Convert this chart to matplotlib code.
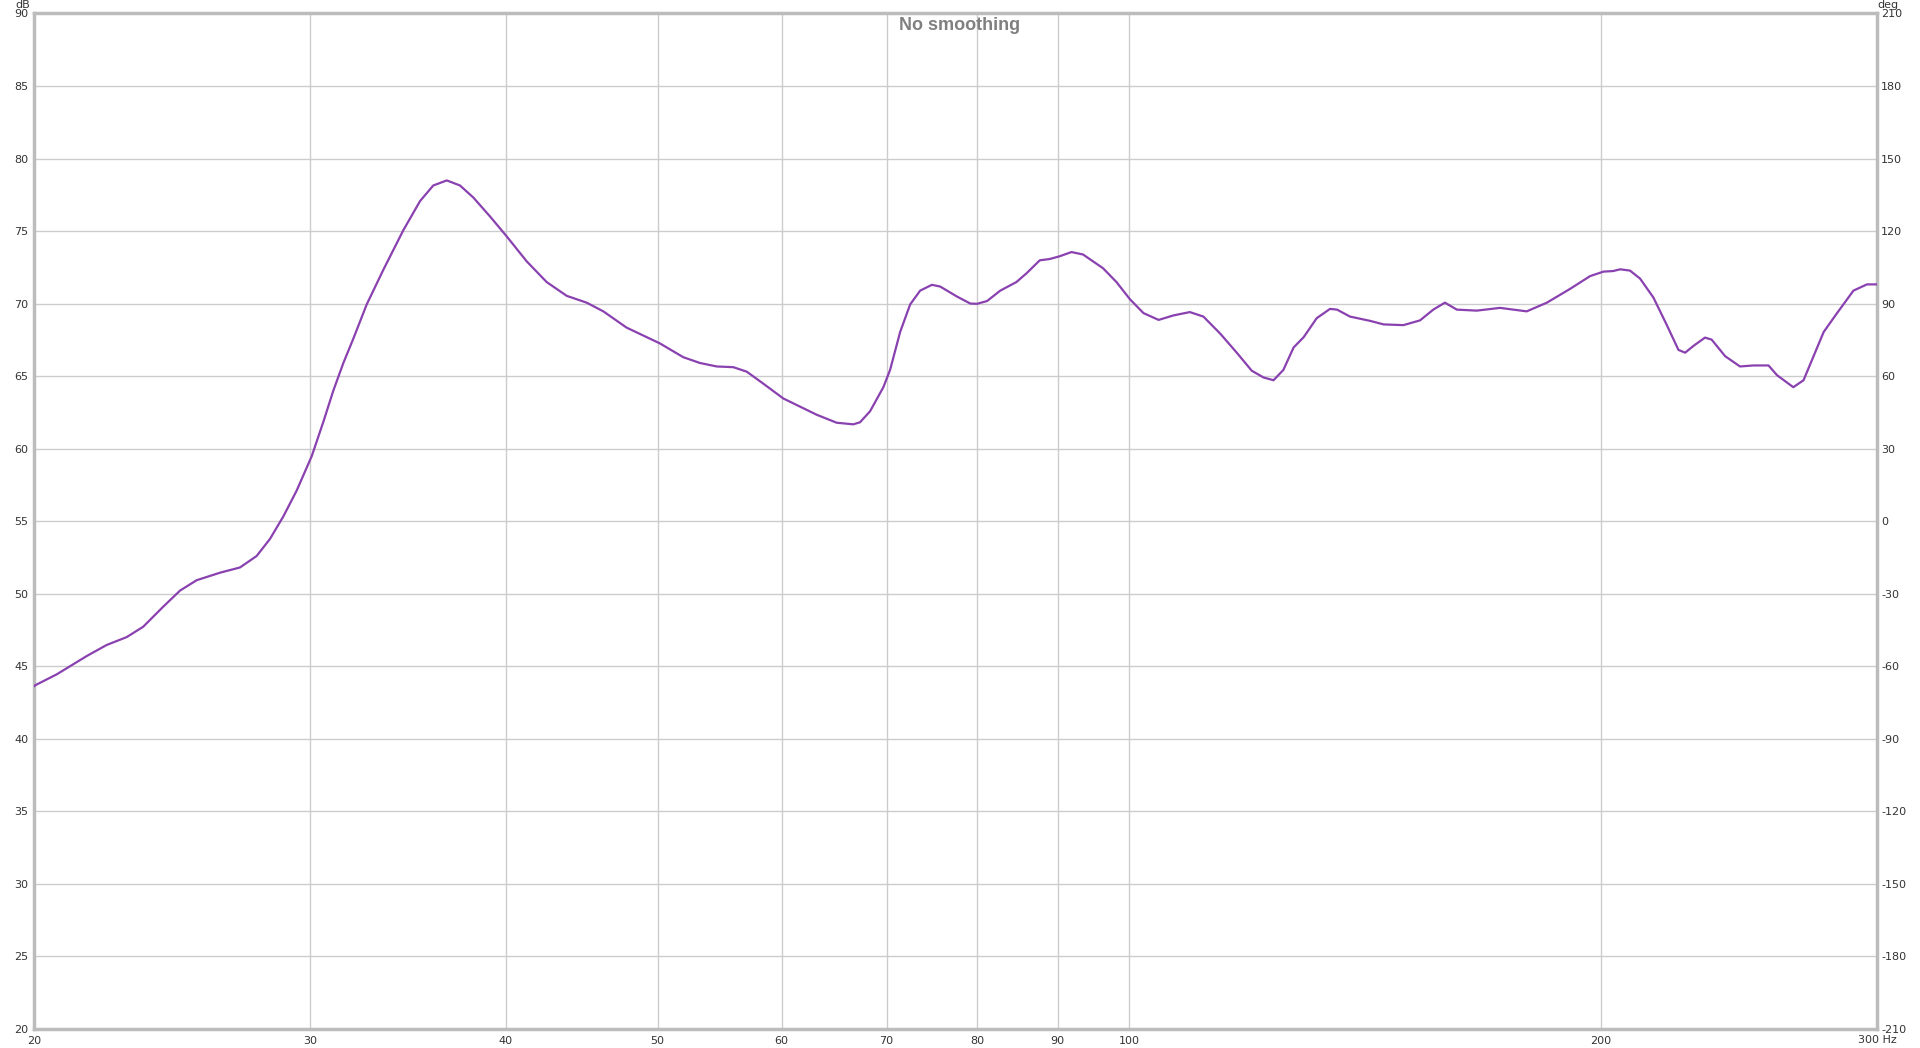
import numpy as np
import matplotlib
matplotlib.use('Agg')
import matplotlib.pyplot as plt

plt.rcParams['axes.unicode_minus'] = False

# frequency response (Hz, dB)
freq = [20.0, 20.03, 20.68, 21.61, 22.25, 22.92, 23.48, 24.18, 24.79, 25.40, 26.29, 27.07, 27.74,
        28.29, 28.85, 29.42, 30.08, 30.60, 31.05, 31.51, 31.97, 32.61, 33.41, 34.41, 35.27,
        35.96, 36.68, 37.40, 38.14, 39.09, 40.05, 41.25, 42.48, 43.75, 45.05, 46.17, 47.77,
        50.17, 51.92, 53.21, 54.54, 55.89, 57.00, 58.41, 60.15, 61.34, 63.17, 65.05, 66.66,
        67.32, 68.32, 69.67, 70.36, 71.41, 72.47, 73.54, 74.82, 75.74, 77.63, 79.16, 79.94,
        81.13, 82.73, 84.71, 85.97, 87.67, 88.97, 90.28, 91.85, 93.43, 96.22, 98.13, 100.1,
        102.1, 104.4, 106.7, 109.3, 111.5, 114.3, 117.1, 119.7, 121.8, 123.6, 125.4, 127.3,
        129.2, 131.7, 134.3, 135.7, 138.3, 142.5, 145.3, 149.6, 153.3, 156.3, 159.0, 161.8,
        166.6, 172.4, 179.3, 184.7, 191.1, 196.8, 200.7, 203.6, 205.7, 208.7, 211.8, 216.0,
        220.3, 224.1, 226.3, 229.1, 233.0, 235.3, 240.0, 245.3, 250.2, 255.8, 259.0, 265.3,
        269.3, 273.3, 277.4, 282.9, 289.8, 295.6, 300.0]
spl = [43.6, 43.67, 44.43, 45.69, 46.45, 47.0, 47.71, 49.09, 50.21, 50.92, 51.44, 51.8, 52.59,
       53.77, 55.32, 57.1, 59.48, 61.86, 64.0, 65.9, 67.56, 69.94, 72.31, 75.05, 77.07,
       78.14, 78.49, 78.14, 77.31, 76.0, 74.64, 72.91, 71.48, 70.53, 70.06, 69.46, 68.34,
       67.25, 66.3, 65.9, 65.66, 65.61, 65.3, 64.47, 63.45, 63.0, 62.33, 61.78, 61.67,
       61.81, 62.57, 64.23, 65.42, 68.04, 69.94, 70.89, 71.29, 71.17, 70.48, 70.0, 69.98,
       70.17, 70.89, 71.48, 72.08, 72.98, 73.07, 73.26, 73.55, 73.38, 72.43, 71.48, 70.29,
       69.34, 68.87, 69.18, 69.41, 69.1, 67.92, 66.61, 65.37, 64.9, 64.71, 65.42, 66.97,
       67.68, 68.99, 69.63, 69.58, 69.1, 68.8, 68.56, 68.51, 68.84, 69.58, 70.06, 69.58,
       69.51, 69.7, 69.46, 70.06, 71.01, 71.89, 72.2, 72.24, 72.36, 72.27, 71.72, 70.41,
       68.51, 66.8, 66.61, 67.08, 67.65, 67.51, 66.37, 65.66, 65.73, 65.73, 65.06, 64.23,
       64.71, 66.37, 68.04, 69.34, 70.89, 71.32, 71.32]

x_ticks = [20, 30, 40, 50, 60, 70, 80, 90, 100, 200, 300]
x_labels = ['20', '30', '40', '50', '60', '70', '80', '90', '100', '200', '']
db_ticks = list(range(20, 95, 5))
deg_ticks = list(range(-210, 240, 30))

fig = plt.figure(figsize=(19.2, 10.48), dpi=100)
ax = fig.add_axes([0.01771, 0.01851, 0.95989, 0.96861])

ax.plot(freq, spl, color='#8a41b0', lw=1.6, zorder=3,
        solid_joinstyle='round', solid_capstyle='round')

ax.set_xscale('log')
ax.set_xlim(20, 300)
ax.set_ylim(20, 90)
ax.set_xticks(x_ticks)
ax.set_xticklabels(x_labels)
ax.xaxis.set_minor_locator(matplotlib.ticker.NullLocator())
ax.set_yticks(db_ticks)
ax.grid(True, color='#cccccc', lw=1.0)
ax.tick_params(length=0, labelsize=8, colors='#333333', pad=5)
ax.tick_params(axis='y', pad=4)
for s in ax.spines.values():
    s.set_color('#bcbcbc')
    s.set_linewidth(2.5)

ax2 = ax.twinx()
ax2.set_ylim(-210, 210)
ax2.set_yticks(deg_ticks)
ax2.tick_params(length=0, labelsize=8, colors='#333333', pad=3)
for s in ax2.spines.values():
    s.set_visible(False)

ax.text(300, 19.55, '300 Hz', ha='center', va='top', fontsize=8, color='#333333')
fig.text(0.0156, 1.0, 'dB', ha='right', va='top', fontsize=8, color='#333333')
fig.text(0.978, 1.0, 'deg', ha='left', va='top', fontsize=8, color='#333333')
fig.text(0.5, 0.984, 'No smoothing', ha='center', va='top', fontsize=13,
         fontweight='bold', color='#808080', family='Liberation Sans')

fig.savefig('out.png', dpi=100, facecolor='white')
